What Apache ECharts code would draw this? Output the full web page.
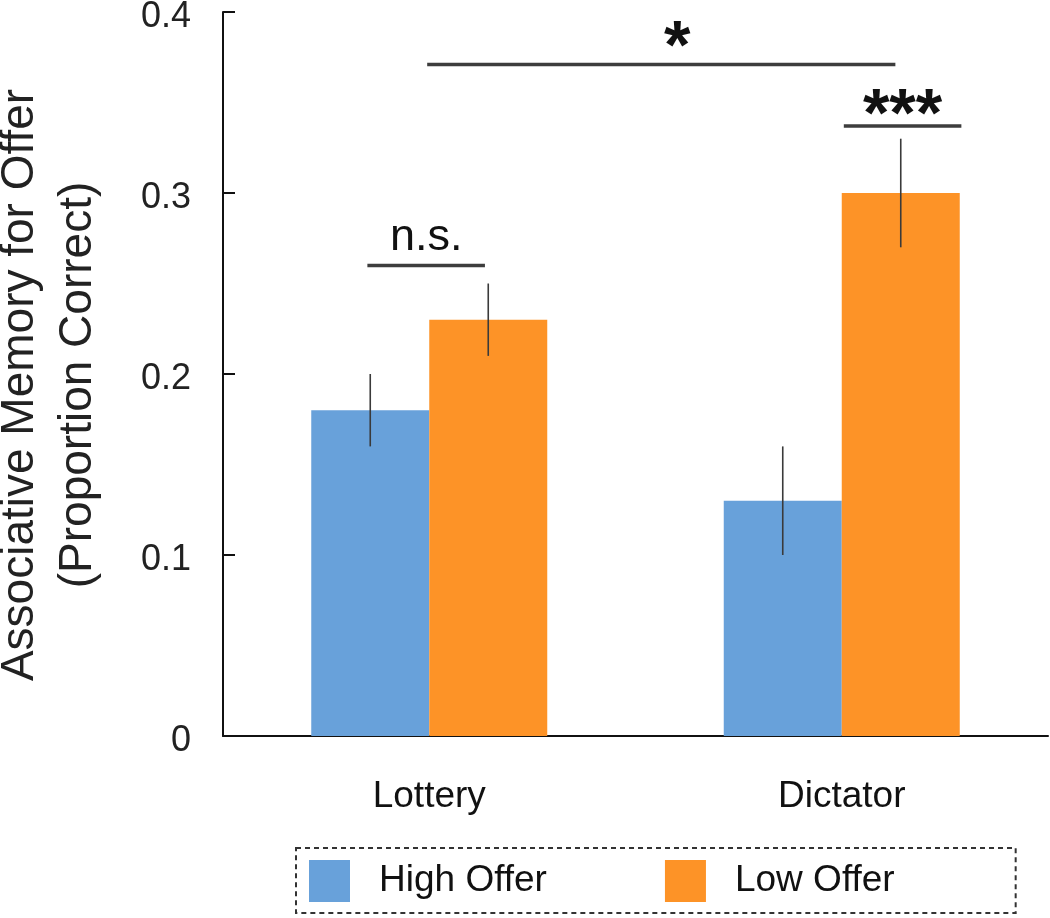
<!DOCTYPE html>
<html>
<head>
<meta charset="utf-8">
<script src="https://cdn.jsdelivr.net/npm/echarts@6/dist/echarts.min.js"></script>
<style>html,body{margin:0;padding:0;background:#fff;}#c{width:1050px;height:918px;}</style>
</head>
<body>
<div id="c"></div>
<script>
const categories = ['Lottery', 'Dictator'];
const seriesNames = ['High Offer', 'Low Offer'];
const highOffer = [0.18, 0.13];
const lowOffer = [0.23, 0.30];
const highErr = [[0.16, 0.20], [0.10, 0.16]];
const lowErr = [[0.21, 0.25], [0.27, 0.33]];
const yTicks = [0, 0.1, 0.2, 0.3, 0.4];
// significance brackets: x in category units (0..2, category i center = i+0.5)
const brackets = [
  { from: 0.35, to: 0.635, y: 0.26, label: 'n.s.' },
  { from: 0.495, to: 1.63, y: 0.371, label: '*' },
  { from: 1.505, to: 1.79, y: 0.337, label: '***' }
];

const FONT = 'Liberation Sans, Arial, Helvetica, sans-serif';
const BAR_W = 118;
const colors = ['#68A1DA', '#FD9327'];
const labelLift = [24, 32, 25];
const labelShiftX = [0, 16, 0];

const chart = echarts.init(document.getElementById('c'));

function errSeries(errs, dir) {
  return {
    type: 'custom',
    xAxisIndex: 0,
    yAxisIndex: 0,
    z: 10,
    data: errs.map((e, i) => [i, e[0], e[1]]),
    renderItem: function (params, api) {
      const lo = api.coord([api.value(0), api.value(1)]);
      const hi = api.coord([api.value(0), api.value(2)]);
      const x = lo[0] + dir * BAR_W / 2;
      return {
        type: 'line',
        shape: { x1: x, y1: lo[1], x2: x, y2: hi[1] },
        style: { stroke: '#3a3a3a', lineWidth: 1.6 }
      };
    }
  };
}

const option = {
  backgroundColor: '#fff',
  animation: false,
  grid: { left: 223, right: 2, top: 12, bottom: 182, outerBoundsMode: 'none', containLabel: false },
  legend: {
    left: 296,
    top: 848,
    data: seriesNames,
    icon: 'rect',
    itemWidth: 41,
    itemHeight: 42,
    itemGap: 118,
    padding: [12, 121, 11, 13],
    borderColor: '#333',
    borderWidth: 2,
    borderType: [5, 4],
    textStyle: { fontFamily: FONT, fontSize: 37, color: '#111', padding: [0, 0, 0, 24] }
  },
  xAxis: [
    {
      type: 'category',
      data: categories,
      axisLine: { lineStyle: { color: '#111', width: 2 } },
      axisTick: { show: false },
      axisLabel: { fontFamily: FONT, fontSize: 37, color: '#111', margin: 42 }
    },
    { type: 'value', min: 0, max: 2, show: false }
  ],
  yAxis: {
    type: 'value',
    min: 0,
    max: 0.4,
    interval: 0.1,
    splitLine: { show: false },
    axisLine: { show: true, lineStyle: { color: '#111', width: 2 } },
    axisTick: { show: true, inside: true, length: 12, lineStyle: { color: '#111', width: 2 } },
    axisLabel: {
      fontFamily: FONT, fontSize: 36, color: '#222', margin: 32,
      verticalAlign: 'top',
      lineHeight: 10,
      formatter: v => { const t = yTicks.find(k => Math.abs(k - v) < 1e-9); return t === 0 ? '0' : (t !== undefined ? t.toFixed(1) : ''); }
    },
    name: 'Associative Memory for Offer\n(Proportion Correct)',
    nameLocation: 'middle',
    nameGap: 116,
    nameRotate: 90,
    nameTextStyle: { fontFamily: FONT, fontSize: 46, color: '#222', lineHeight: 58, padding: [0, 22, 0, 0] }
  },
  series: [
    {
      name: seriesNames[0], type: 'bar', data: highOffer, barWidth: BAR_W, barGap: '0%',
      itemStyle: { color: colors[0] }
    },
    {
      name: seriesNames[1], type: 'bar', data: lowOffer, barWidth: BAR_W, barGap: '0%',
      itemStyle: { color: colors[1] }
    },
    errSeries(highErr, -1),
    errSeries(lowErr, 1),
    {
      type: 'custom',
      xAxisIndex: 1,
      yAxisIndex: 0,
      z: 10,
      data: brackets.map(b => [b.from, b.to, b.y]),
      renderItem: function (params, api) {
        const b = brackets[params.dataIndex];
        const p1 = api.coord([api.value(0), api.value(2)]);
        const p2 = api.coord([api.value(1), api.value(2)]);
        const isStar = b.label.indexOf('*') >= 0;
        const fs = isStar ? 68 : 45;
        const glyphShift = isStar ? 0.24 * fs : -0.08 * fs;
        const i = params.dataIndex;
        return {
          type: 'group',
          children: [
            {
              type: 'line',
              shape: { x1: p1[0], y1: p1[1], x2: p2[0], y2: p2[1] },
              style: { stroke: '#3d3d3d', lineWidth: 3.5 }
            },
            {
              type: 'text',
              x: (p1[0] + p2[0]) / 2 + labelShiftX[i],
              y: p1[1] - labelLift[i] + glyphShift,
              style: {
                text: b.label,
                fontFamily: FONT,
                fontSize: fs,
                fontWeight: isStar ? 'bold' : 'normal',
                fill: '#111',
                align: 'center',
                verticalAlign: 'middle'
              }
            }
          ]
        };
      }
    }
  ]
};
chart.setOption(option);
</script>
</body>
</html>
